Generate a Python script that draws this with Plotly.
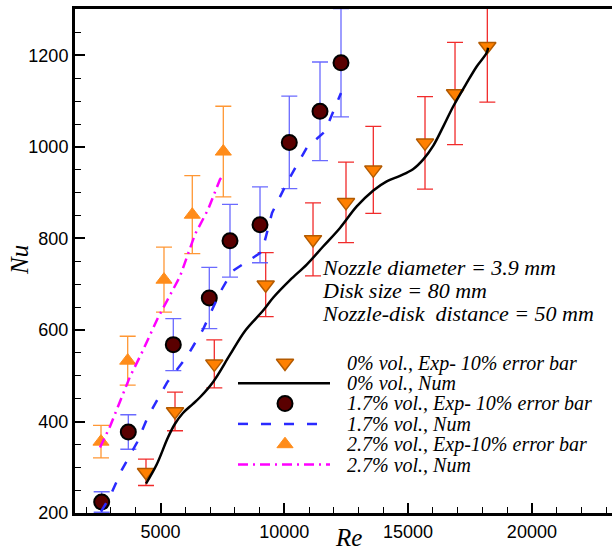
import plotly.graph_objects as go

# ---- data ----
re_exp0 = [4414, 5586, 7173, 9249, 11160, 12492, 13595, 15683, 16895, 18200]
nu_exp0 = [289, 422, 526, 699, 798, 879, 950, 1009, 1117, 1220]

re_exp17 = [2625, 3700, 5517, 6971, 7807, 9019, 10202, 11442, 12290]
nu_exp17 = [224, 377, 568, 670, 795, 830, 1010, 1078, 1184]

re_exp27 = [2597, 3675, 5141, 6284, 7537]
nu_exp27 = [356, 533, 710, 852, 990]

re_num0 = [4414, 4846, 5300, 5586, 5900, 6300, 6595, 7133, 7807, 8413, 9152, 9556,
           10230, 10905, 11576, 12250, 12925, 13595, 14137, 14673, 15210, 15615,
           16019, 16423, 16826, 17367, 17771, 18175, 18230]
nu_num0 = [264, 306, 365, 395, 418, 438, 453, 487, 546, 598, 643, 671,
           709, 743, 783, 823, 870, 905, 925, 937, 952, 973,
           1003, 1045, 1089, 1140, 1176, 1206, 1217]

re_num17 = [2597, 2960, 3445, 4051, 4495, 5263, 6070, 6717, 7403, 7888, 8736, 9100,
            9504, 10110, 10513, 10917, 11644, 12048, 12290]
nu_num17 = [203, 236, 295, 354, 411, 485, 542, 601, 682, 728, 758, 771,
            856, 922, 961, 999, 1034, 1088, 1118]

re_num27 = [2556, 2960, 3768, 4253, 4899, 5788, 6393, 6918, 7403, 7484]
nu_num27 = [343, 389, 498, 551, 627, 717, 809, 863, 929, 935]

error_percent = 10

legend_labels = [
    "0% vol., Exp- 10% error bar",
    "0% vol., Num",
    "1.7% vol., Exp- 10% error bar",
    "1.7% vol., Num",
    "2.7% vol., Exp-10% error bar",
    "2.7% vol., Num",
]
info_lines = [
    "Nozzle diameter = 3.9 mm",
    "Disk size = 80 mm",
    "Nozzle-disk  distance = 50 mm",
]
x_title = "Re"
y_title = "Nu"

# ---- styles ----
SERIF = "Times New Roman, Liberation Serif, serif"
SANS = "Arial, Liberation Sans, sans-serif"
tri_down = dict(symbol="triangle-down", size=15, color="#ff8000",
                line=dict(color="#b35a00", width=1.5))
circ = dict(symbol="circle", size=15, color="#5a0000",
            line=dict(color="black", width=2))
tri_up = dict(symbol="triangle-up", size=14, color="#ff8c1a",
              line=dict(color="#ff8c1a", width=1))
line0 = dict(color="black", width=2.5)
line17 = dict(color="#2a2aff", width=2.5, dash="10px,13px")
line27 = dict(color="#ff00ff", width=2.5, dash="10px,5px,2px,5px")

fig = go.Figure()

def err(color):
    return dict(type="percent", value=error_percent, color=color,
                thickness=1.3, width=8)

fig.add_trace(go.Scatter(x=re_exp0, y=nu_exp0, mode="markers", marker=tri_down,
                         error_y=err("rgba(240,20,20,0.9)"), showlegend=False))
fig.add_trace(go.Scatter(x=re_exp17, y=nu_exp17, mode="markers", marker=circ,
                         error_y=err("rgba(80,80,255,0.85)"), showlegend=False))
fig.add_trace(go.Scatter(x=re_exp27, y=nu_exp27, mode="markers", marker=tri_up,
                         error_y=err("rgba(255,140,30,0.9)"), showlegend=False))
fig.add_trace(go.Scatter(x=re_num0, y=nu_num0, mode="lines",
                         line=dict(shape="spline", smoothing=1.0, **line0), showlegend=False))
fig.add_trace(go.Scatter(x=re_num17, y=nu_num17, mode="lines", line=line17, showlegend=False))
fig.add_trace(go.Scatter(x=re_num27, y=nu_num27, mode="lines", line=line27, showlegend=False))

# ---- custom legend on a pixel-space overlay axis ----
W, H = 612, 555
L, R, T, B = 75, 0, 9, 42
leg_x0, leg_x1, leg_xc, leg_tx = 238, 330, 285, 345
leg_y0, leg_dy = 363, 20.3
styles = [("m", tri_down), ("l", line0), ("m", circ), ("l", line17), ("m", tri_up), ("l", line27)]
for i, (kind, st) in enumerate(styles):
    y = leg_y0 + i * leg_dy
    if kind == "m":
        fig.add_trace(go.Scatter(x=[leg_xc], y=[y], mode="markers", marker=st,
                                 xaxis="x2", yaxis="y2", showlegend=False, hoverinfo="skip"))
    else:
        fig.add_trace(go.Scatter(x=[leg_x0, leg_x1], y=[y, y], mode="lines", line=st,
                                 xaxis="x2", yaxis="y2", showlegend=False, hoverinfo="skip"))
    fig.add_annotation(x=leg_tx, y=y, xref="x2", yref="y2", text=legend_labels[i],
                       showarrow=False, xanchor="left", yanchor="middle",
                       font=dict(family=SERIF, size=20, color="black", style="italic"))

for i, t in enumerate(info_lines):
    fig.add_annotation(x=320, y=267 + i * 23, xref="x2", yref="y2", text=t,
                       showarrow=False, xanchor="left", yanchor="middle",
                       font=dict(family=SERIF, size=22, color="black", style="italic"))

# axis titles (paper coordinates; positions converted from pixels)
def px_x(px):
    return (px - L) / (W - L - R)

def px_y(py):
    return (H - B - py) / (H - B - T)

fig.add_annotation(x=px_x(348), y=px_y(537), xref="paper", yref="paper", text=x_title,
                   showarrow=False, xanchor="center", yanchor="middle",
                   font=dict(family=SERIF, size=25, color="black", style="italic"))
fig.add_annotation(x=px_x(19), y=px_y(260), xref="paper", yref="paper", text=y_title,
                   showarrow=False, xanchor="center", yanchor="middle", textangle=-90,
                   font=dict(family=SERIF, size=25, color="black", style="italic"))

fig.update_layout(
    width=W, height=H,
    margin=dict(l=L, r=R, t=T, b=B),
    paper_bgcolor="white", plot_bgcolor="white",
    showlegend=False,
    xaxis=dict(range=[1547, 23235], showline=True, linewidth=3, linecolor="black",
               mirror=True, showgrid=False, zeroline=False,
               tickmode="linear", tick0=0, dtick=5000, tickformat="d",
               ticks="inside", ticklen=10, tickwidth=2, tickcolor="black",
               minor=dict(dtick=1000, tick0=0, ticks="inside", ticklen=6, tickwidth=1, tickcolor="black"),
               tickfont=dict(family=SANS, size=18, color="black")),
    yaxis=dict(range=[200, 1301.6], showline=True, linewidth=3, linecolor="black",
               mirror=False, showgrid=False, zeroline=False,
               tickmode="linear", tick0=0, dtick=200, tickformat="d",
               ticks="inside", ticklen=10, tickwidth=2, tickcolor="black",
               minor=dict(dtick=50, tick0=0, ticks="inside", ticklen=6, tickwidth=1, tickcolor="black"),
               tickfont=dict(family=SANS, size=18, color="black")),
    xaxis2=dict(range=[L, W - R], overlaying="x", visible=False, fixedrange=True),
    yaxis2=dict(range=[H - B, T], overlaying="y", visible=False, fixedrange=True),
)

fig.write_html("out.html")
